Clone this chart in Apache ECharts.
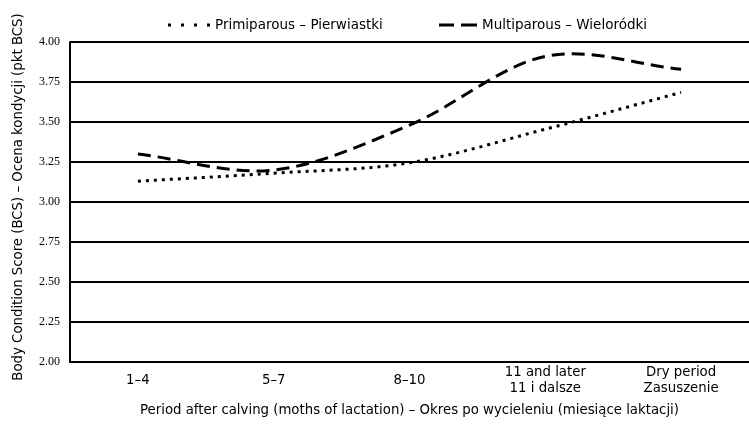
<!DOCTYPE html>
<html><head><meta charset="utf-8">
<script src="https://cdn.jsdelivr.net/npm/echarts@6/dist/echarts.min.js"></script>
<style>html,body{margin:0;padding:0;background:#fff}#c{width:749px;height:424px}</style>
</head><body><div id="c"></div>
<script>
var categories = ['1–4', '5–7', '8–10', '11 and later\n11 i dalsze', 'Dry period\nZasuszenie'];
var primiparous = [3.13, 3.18, 3.245, 3.455, 3.685];
var multiparous = [3.30, 3.20, 3.48, 3.91, 3.83];
var seriesNames = ['Primiparous – Pierwiastki', 'Multiparous – Wieloródki'];

// Smooth curve (Catmull-Rom style, like spreadsheet smoothed lines) through the data points
function makeRender(values, dash) {
  return function (params, api) {
    if (params.dataIndex !== 0) return null;
    var p = values.map(function (v, i) { return api.coord([i, v]); });
    var n = p.length;
    function pt(i) {
      if (i < 0) return [2 * p[0][0] - p[1][0], 2 * p[0][1] - p[1][1]];
      if (i >= n) return [2 * p[n - 1][0] - p[n - 2][0], 2 * p[n - 1][1] - p[n - 2][1]];
      return p[i];
    }
    var d = 'M' + p[0][0] + ' ' + p[0][1];
    for (var i = 0; i < n - 1; i++) {
      var a = pt(i - 1), b = pt(i), c = pt(i + 1), e = pt(i + 2);
      var c1x = b[0] + (c[0] - a[0]) / 6, c1y = b[1] + (c[1] - a[1]) / 6;
      var c2x = c[0] - (e[0] - b[0]) / 6, c2y = c[1] - (e[1] - b[1]) / 6;
      d += ' C' + c1x + ' ' + c1y + ' ' + c2x + ' ' + c2y + ' ' + c[0] + ' ' + c[1];
    }
    return {
      type: 'path',
      shape: {pathData: d},
      style: {fill: 'none', stroke: '#000', lineWidth: 3, lineDash: dash}
    };
  };
}

var chart = echarts.init(document.getElementById('c'), null, {renderer: 'canvas'});
chart.setOption({
  animation: false,
  backgroundColor: '#fff',
  legend: [{
    top: 13, left: 163, itemWidth: 42, itemHeight: 3,
    textStyle: {fontFamily: 'DejaVu Sans', fontSize: 13.5, color: '#000'},
    itemStyle: {color: '#000'},
    data: [{name: seriesNames[0], icon: 'path://M0,0h3v3h-3z M13,0h3v3h-3z M26,0h3v3h-3z M39,0h3v3h-3z'}]
  }, {
    top: 13, left: 434, itemWidth: 38, itemHeight: 3,
    textStyle: {fontFamily: 'DejaVu Sans', fontSize: 13.5, color: '#000'},
    itemStyle: {color: '#000'},
    data: [{name: seriesNames[1], icon: 'path://M0,0h15v3h-15z M22,0h16v3h-16z'}]
  }],
  grid: {left: 70, right: 0, top: 42, bottom: 62, containLabel: false},
  xAxis: {
    type: 'category', data: categories, boundaryGap: true,
    name: 'Period after calving (moths of lactation) – Okres po wycieleniu (miesiące laktacji)',
    nameLocation: 'middle', nameGap: 42,
    nameTextStyle: {fontFamily: 'DejaVu Sans', fontSize: 13.3, color: '#000'},
    axisLine: {lineStyle: {color: '#000', width: 2}},
    axisTick: {inside: true, length: 4, lineStyle: {color: '#000', width: 1}},
    axisLabel: {fontFamily: 'DejaVu Sans', fontSize: 13.3, color: '#000', lineHeight: 16,
      margin: 19, verticalAlign: 'middle'}
  },
  yAxis: {
    type: 'value', min: 2, max: 4, interval: 0.25,
    name: 'Body Condition Score (BCS) – Ocena kondycji (pkt BCS)',
    nameLocation: 'middle', nameGap: 45,
    nameTextStyle: {fontFamily: 'DejaVu Sans', fontSize: 13.3, color: '#000', padding: [0, 0, 0, 10]},
    axisLine: {show: true, lineStyle: {color: '#000', width: 2}},
    axisTick: {show: false},
    axisLabel: {fontFamily: 'Liberation Serif', fontSize: 12, color: '#000', margin: 10,
      formatter: function (v) { return v.toFixed(2); }},
    splitLine: {lineStyle: {color: '#000', width: 2}}
  },
  series: [
    {name: seriesNames[0], type: 'custom', itemStyle: {color: '#000'},
     data: primiparous.map(function (v, i) { return [i, v]; }),
     renderItem: makeRender(primiparous, [3, 5])},
    {name: seriesNames[1], type: 'custom', itemStyle: {color: '#000'},
     data: multiparous.map(function (v, i) { return [i, v]; }),
     renderItem: makeRender(multiparous, [13, 7])}
  ]
});
</script></body></html>
